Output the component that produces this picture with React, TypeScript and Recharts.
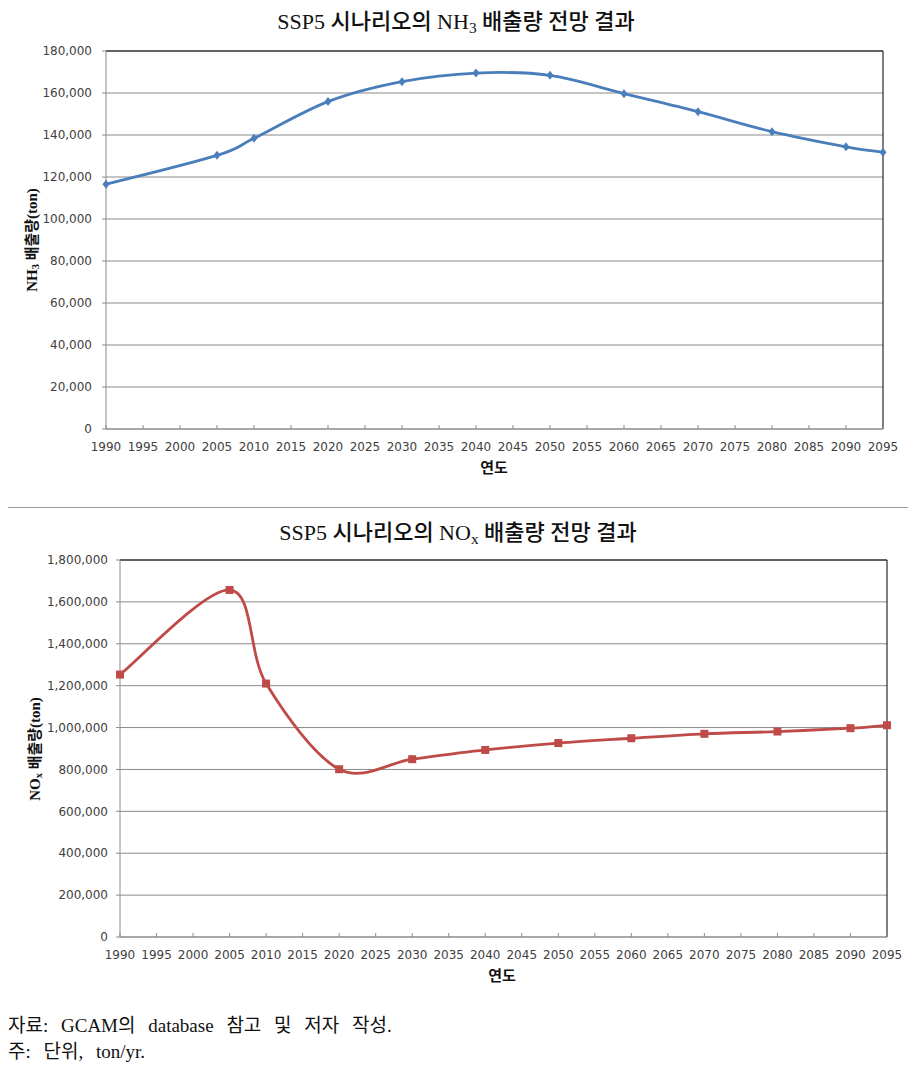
import React from 'react';
import {
  LineChart,
  Line,
  XAxis,
  YAxis,
  CartesianGrid,
  ReferenceLine,
} from 'recharts';

const years = [1990, 2005, 2010, 2020, 2030, 2040, 2050, 2060, 2070, 2080, 2090, 2095];
const nh3Values = [116500, 130300, 138400, 155900, 165400, 169500, 168400, 159700, 151100, 141600, 134400, 131800];
const noxValues = [1253000, 1657000, 1210000, 801000, 849000, 893000, 926000, 949000, 970000, 981000, 997000, 1011000];

const yearTicks = [
  1990, 1995, 2000, 2005, 2010, 2015, 2020, 2025, 2030, 2035, 2040,
  2045, 2050, 2055, 2060, 2065, 2070, 2075, 2080, 2085, 2090, 2095,
];
const nh3Ticks = [0, 20000, 40000, 60000, 80000, 100000, 120000, 140000, 160000, 180000];
const noxTicks = [0, 200000, 400000, 600000, 800000, 1000000, 1200000, 1400000, 1600000, 1800000];

const nh3Data = years.map((year, i) => ({ year, value: nh3Values[i] }));
const noxData = years.map((year, i) => ({ year, value: noxValues[i] }));

const BLUE = '#4A7EBB';
const RED = '#BE4B48';
const GRID = '#8a8a8a';
const TICK_FONT = "'DejaVu Sans', sans-serif";
const SERIF = "'Liberation Serif', 'Noto Sans CJK KR', serif";

// Excel-style smoothed line (Catmull-Rom style bezier)
function excelCurve(context: any) {
  let xs: number[] = [];
  let ys: number[] = [];
  return {
    areaStart() {},
    areaEnd() {},
    lineStart() {
      xs = [];
      ys = [];
    },
    point(x: number, y: number) {
      xs.push(+x);
      ys.push(+y);
    },
    lineEnd() {
      const n = xs.length;
      if (!n) return;
      context.moveTo(xs[0], ys[0]);
      for (let i = 0; i < n - 1; i++) {
        const a = i > 0 ? i - 1 : i;
        const d = i + 2 < n ? i + 2 : i + 1;
        context.bezierCurveTo(
          xs[i] + (xs[i + 1] - xs[a]) / 6,
          ys[i] + (ys[i + 1] - ys[a]) / 6,
          xs[i + 1] - (xs[d] - xs[i]) / 6,
          ys[i + 1] - (ys[d] - ys[i]) / 6,
          xs[i + 1],
          ys[i + 1],
        );
      }
    },
  };
}

function Diamond(props: any) {
  const { cx, cy, index } = props;
  return (
    <path
      key={index}
      d={`M${cx},${cy - 4.5}L${cx + 3.5},${cy}L${cx},${cy + 4.5}L${cx - 3.5},${cy}Z`}
      fill={BLUE}
    />
  );
}

function Square(props: any) {
  const { cx, cy, index } = props;
  return <rect key={index} x={cx - 4} y={cy - 4} width={8} height={8} fill={RED} />;
}

function XTick(props: any) {
  const { x, y, payload } = props;
  return (
    <g>
      <line x1={x} x2={x} y1={y} y2={y - 4} stroke={GRID} />
      <text x={x} y={y + 22} textAnchor="middle" fontSize={12} fontFamily={TICK_FONT} fill="#404040">
        {payload.value}
      </text>
    </g>
  );
}

const fmt = (v: number) => v.toLocaleString('en-US');

const titleStyle: React.CSSProperties = {
  position: 'absolute',
  transform: 'translateX(-50%)',
  whiteSpace: 'nowrap',
  fontFamily: SERIF,
  fontSize: 22,
  fontWeight: 500,
  color: '#111',
};

const axisTitle: React.CSSProperties = {
  position: 'absolute',
  whiteSpace: 'nowrap',
  fontFamily: SERIF,
  fontWeight: 'bold',
  fontSize: 15,
  color: '#111',
};

const sub: React.CSSProperties = { fontSize: '0.7em', verticalAlign: '-0.25em', lineHeight: 0 };

export default function App() {
  return (
    <div style={{ position: 'absolute', left: 0, top: 0, width: 923, height: 1067, background: '#fff' }}>
      {/* NH3 chart */}
      <div style={{ position: 'absolute', left: 0, top: 0 }}>
        <LineChart width={923} height={490} data={nh3Data} margin={{ top: 51, right: 40, left: 46, bottom: 31 }}>
          <CartesianGrid vertical={false} stroke={GRID} />
          <XAxis
            dataKey="year"
            type="number"
            domain={[1990, 2095]}
            ticks={yearTicks}
            interval={0}
            tickLine={false}
            tickSize={0}
            tickMargin={0}
            axisLine={{ stroke: GRID }}
            tick={<XTick />}
            height={30}
          />
          <YAxis
            domain={[0, 180000]}
            ticks={nh3Ticks}
            interval={0}
            tickFormatter={fmt}
            width={60}
            tickSize={4}
            tickMargin={10}
            axisLine={{ stroke: GRID }}
            tickLine={{ stroke: GRID }}
            tick={{ fontSize: 12, fontFamily: TICK_FONT, fill: '#404040' }}
          />
          <ReferenceLine y={180000} stroke="#000" />
          <ReferenceLine x={2095} stroke="#000" />
          <Line
            dataKey="value"
            type={excelCurve as any}
            stroke={BLUE}
            strokeWidth={2.8}
            dot={Diamond}
            activeDot={false}
            isAnimationActive={false}
          />
        </LineChart>
      </div>
      <div style={{ ...titleStyle, left: 456, top: 3 }}>
        SSP5 시나리오의 NH<span style={sub}>3</span> 배출량 전망 결과
      </div>
      <div style={{ ...axisTitle, left: 30, top: 240, transform: 'translate(-50%, -50%) rotate(-90deg)' }}>
        NH<span style={sub}>3</span> 배출량(ton)
      </div>
      <div style={{ ...axisTitle, left: 494, top: 456, transform: 'translateX(-50%)' }}>연도</div>

      {/* separator */}
      <div style={{ position: 'absolute', left: 8, top: 507, width: 900, height: 1, background: '#9a9a9a' }} />

      {/* NOx chart */}
      <div style={{ position: 'absolute', left: 0, top: 500 }}>
        <LineChart width={923} height={500} data={noxData} margin={{ top: 60, right: 36, left: 50, bottom: 33 }}>
          <CartesianGrid vertical={false} stroke={GRID} />
          <XAxis
            dataKey="year"
            type="number"
            domain={[1990, 2095]}
            ticks={yearTicks}
            interval={0}
            tickLine={false}
            tickSize={0}
            tickMargin={0}
            axisLine={{ stroke: GRID }}
            tick={<XTick />}
            height={30}
          />
          <YAxis
            domain={[0, 1800000]}
            ticks={noxTicks}
            interval={0}
            tickFormatter={fmt}
            width={70}
            tickSize={4}
            tickMargin={8}
            axisLine={{ stroke: GRID }}
            tickLine={{ stroke: GRID }}
            tick={{ fontSize: 12, fontFamily: TICK_FONT, fill: '#404040' }}
          />
          <ReferenceLine y={1800000} stroke="#000" />
          <ReferenceLine x={2095} stroke="#000" />
          <Line
            dataKey="value"
            type={excelCurve as any}
            stroke={RED}
            strokeWidth={2.8}
            dot={Square}
            activeDot={false}
            isAnimationActive={false}
          />
        </LineChart>
      </div>
      <div style={{ ...titleStyle, left: 458, top: 514 }}>
        SSP5 시나리오의 NO<span style={sub}>x</span> 배출량 전망 결과
      </div>
      <div style={{ ...axisTitle, left: 33, top: 749, transform: 'translate(-50%, -50%) rotate(-90deg)' }}>
        NO<span style={sub}>x</span> 배출량(ton)
      </div>
      <div style={{ ...axisTitle, left: 502, top: 964, transform: 'translateX(-50%)' }}>연도</div>

      {/* notes */}
      <div
        style={{
          position: 'absolute',
          left: 8,
          top: 1013,
          fontFamily: SERIF,
          fontSize: 19,
          lineHeight: '26px',
          wordSpacing: 8,
          color: '#111',
          whiteSpace: 'nowrap',
        }}
      >
        <div>자료: GCAM의 database 참고 및 저자 작성.</div>
        <div>주: 단위, ton/yr.</div>
      </div>
    </div>
  );
}
